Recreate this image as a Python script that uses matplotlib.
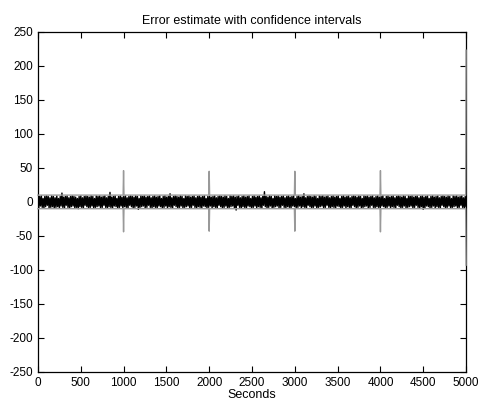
import numpy as np
import matplotlib.pyplot as plt

plt.rcParams['font.family'] = ['Liberation Sans', 'DejaVu Sans']
plt.rcParams['axes.unicode_minus'] = False

# error estimate, read off roughly every 10 s
noise = [
    7, -9, 8, -6, 9, -8, 5, -9, 8, -7, 9, -5, 8, -9, 6, -8, 9, -7, 8, -9,
    6, -8, 9, -7, 5, -9, 8, -6, 13, -8, 7, -9, 8, -5, 9, -8, 6, -9, 8, -7,
    9, -6, 8, -9, 7, -8, 5, -10, 8, -7, 9, -8, 6, -9, 8, -5, 9, -7, 8, -9,
    7, -8, 9, -6, 8, -9, 5, -8, 9, -7, 8, -6, 9, -9, 7, -8, 8, -5, 9, -8,
    6, -9, 8, -7, 14, -8, 7, -9, 8, -6, 9, -7, 5, -9, 8, -8, 9, -6, 7, -9,
    8, -7, 9, -8, 6, -9, 8, -5, 9, -7, 8, -9, 7, -8, 9, -6, 8, -11, 5, -8,
    9, -7, 8, -6, 9, -9, 7, -8, 8, -5, 9, -8, 6, -9, 8, -7, 9, -8, 7, -9,
    8, -6, 9, -7, 5, -9, 8, -8, 9, -6, 7, -9, 8, -7, 12, -8, 6, -9, 8, -5,
    9, -7, 8, -9, 7, -8, 9, -6, 8, -9, 5, -8, 9, -7, 8, -6, 9, -9, 7, -8,
    8, -5, 9, -8, 6, -9, 8, -7, 9, -8, 7, -9, 8, -6, 9, -7, 5, -9, 8, -8,
    9, -6, 7, -9, 8, -7, 9, -8, 6, -9, 8, -5, 9, -7, 8, -9, 7, -8, 9, -6,
    8, -9, 5, -8, 9, -7, 8, -6, 9, -9, 7, -12, 8, -5, 9, -8, 6, -9, 8, -7,
    9, -8, 7, -9, 8, -6, 9, -7, 5, -9, 8, -8, 9, -6, 7, -9, 8, -7, 9, -8,
    6, -9, 8, -5, 15, -7, 8, -9, 7, -8, 9, -6, 8, -9, 5, -8, 9, -7, 8, -6,
    9, -9, 7, -8, 8, -5, 9, -8, 6, -9, 8, -7, 9, -8, 7, -9, 8, -6, 9, -7,
    5, -9, 8, -8, 9, -6, 7, -9, 8, -7, 12, -8, 6, -9, 8, -5, 9, -7, 8, -9,
    7, -8, 9, -6, 8, -9, 5, -8, 9, -7, 8, -6, 9, -9, 7, -8, 8, -5, 9, -8,
    6, -9, 8, -7, 9, -8, 7, -9, 8, -6, 9, -7, 5, -9, 8, -8, 9, -6, 7, -9,
    8, -7, 9, -8, 6, -9, 8, -5, 9, -7, 8, -9, 7, -8, 9, -6, 8, -9, 5, -8,
    9, -7, 8, -6, 9, -9, 7, -8, 8, -5, 9, -8, 6, -9, 8, -7, 9, -8, 7, -9,
    8, -6, 9, -7, 5, -9, 8, -8, 9, -6, 7, -9, 8, -7, 9, -8, 6, -9, 8, -5,
    9, -7, 8, -9, 7, -8, 9, -6, 8, -9, 5, -8, 9, -7, 8, -6, 9, -9, 7, -8,
    8, -5, 9, -8, 6, -9, 8, -7, 9, -11, 7, -9, 8, -6, 9, -7, 5, -9, 8, -8,
    9, -6, 7, -9, 8, -7, 9, -8, 6, -9, 8, -5, 9, -7, 8, -9, 7, -8, 9, -6,
    8, -9, 5, -8, 9, -7, 8, -6, 9, -9, 7, -8, 8, -5, 9, -8, 6, -9, 8, -7,
]

# confidence interval bounds
ci_t = [0, 995, 1000, 1005, 1995, 2000, 2005, 2995, 3000, 3005,
        3995, 4000, 4005, 4995, 5000]
ci_up = [10, 10, 46, 10, 10, 45, 10, 10, 45, 10, 10, 46, 10, 10, 223]
ci_lo = [-10, -10, -44, -10, -10, -43, -10, -10, -43, -10, -10, -44, -10, -10, -93]

t = np.linspace(0, 5000, len(noise))

fig = plt.figure(figsize=(4.8, 4.03), dpi=100)
ax = fig.add_axes([0.079, 0.077, 0.892, 0.844])

ax.plot(t, noise, color='k', lw=1.0)
ax.plot(ci_t, ci_up, color='#999999', lw=1.0, zorder=3, clip_on=False)
ax.plot(ci_t, ci_lo, color='#999999', lw=1.0, zorder=3, clip_on=False)

ax.set_xlim(0, 5000)
ax.set_ylim(-250, 250)
ax.set_xticks(np.arange(0, 5001, 500))
ax.set_yticks(np.arange(-250, 251, 50))
ax.tick_params(direction='in', top=True, right=True, labelsize=8.5, length=4)
for s in ax.spines.values():
    s.set_linewidth(0.9)

ax.set_title('Error estimate with confidence intervals', fontsize=9, pad=6)
ax.set_xlabel('Seconds', fontsize=9, labelpad=0)

fig.savefig('out.png', dpi=100)
